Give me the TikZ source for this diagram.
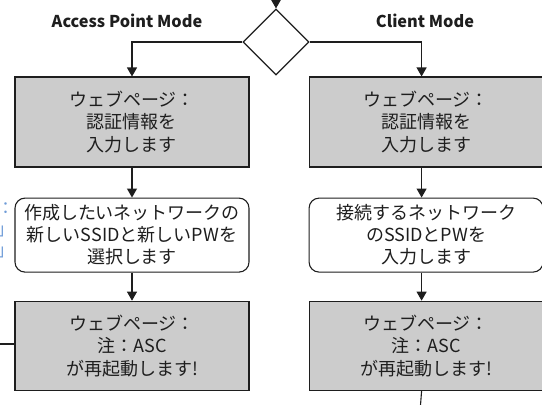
\documentclass[tikz,border=0pt]{standalone}
\usepackage{fontspec}
\setmainfont{Noto Sans CJK JP}
\usetikzlibrary{positioning,arrows.meta,shapes.geometric}
\definecolor{boxgray}{RGB}{204,204,204}
\definecolor{linegray}{RGB}{30,30,30}
\definecolor{noteblue}{RGB}{110,155,215}
\tikzset{
  webbox/.style={rectangle,draw=linegray,line width=1.1pt,fill=boxgray,text=linegray,align=center,minimum width=234pt,minimum height=90pt,inner sep=0pt,font=\fontsize{18}{22.5}\selectfont},
  userbox/.style={rectangle,rounded corners=10pt,draw=linegray,line width=1.1pt,fill=white,text=linegray,align=center,minimum width=234pt,minimum height=74pt,inner sep=0pt,font=\fontsize{18}{22}\selectfont},
  decide/.style={diamond,draw=linegray,line width=1.1pt,fill=white,minimum width=66pt,minimum height=66pt,inner sep=0pt},
  modelabel/.style={text=linegray,font=\bfseries\fontsize{16.3}{19}\selectfont},
  notetext/.style={text=noteblue,align=left,inner sep=0pt,font=\fontsize{17}{21}\selectfont},
  edge/.style={-{Triangle[length=9pt,width=10pt]},line width=1.1pt,draw=linegray}
}
\begin{document}
\begin{tikzpicture}[x=1pt,y=1pt]
  \useasboundingbox (0,0) rectangle (542,-405);
  % decision and the two modes
  \node[decide] (dec) at (276,-42) {};
  \node[modelabel] (aplabel) at (127,-21) {Access Point Mode};
  \node[modelabel] (cllabel) at (425,-21) {Client Mode};
  % left column
  \node[webbox] (apweb) at (132,-122) {ウェブページ：\\認証情報を\\入力します};
  \node[userbox,below=30pt of apweb] (apsel) {作成したいネットワークの\\新しいSSIDと新しいPWを\\選択します};
  \node[webbox,minimum height=89pt,below=28pt of apsel] (aprst) {ウェブページ：\\注：ASC\\が再起動します!};
  % right column
  \node[webbox,right=59pt of apweb] (clweb) {ウェブページ：\\認証情報を\\入力します};
  \node[userbox,below=30pt of clweb] (clent) {接続するネットワーク\\のSSIDとPWを\\入力します};
  \node[webbox,minimum height=89pt,below=28pt of clent] (clrst) {ウェブページ：\\注：ASC\\が再起動します!};
  % note cut by the left edge
  \node[notetext,anchor=north west] (apnote) at (-3,-202) {：\\」\\」};
  % free ends
  \coordinate (start) at (276,12);
  \coordinate (aploop) at (-5,-344);
  \coordinate (clnext) at (420,-412);
  % connectors
  \draw[edge] (start) -- (dec.north);
  \draw[edge] (dec.west) -| (apweb.north);
  \draw[edge] (dec.east) -| ([xshift=-4.5pt]clweb.north);
  \draw[edge] (apweb) -- (apsel);
  \draw[edge] (apsel) -- (aprst);
  \draw[edge] ([xshift=-4.5pt]clweb.south) -- ([xshift=-4.5pt]clent.north);
  \draw[edge] ([xshift=-4.5pt]clent.south) -- ([xshift=-4.5pt]clrst.north);
  \draw[line width=1.1pt,draw=linegray] (aprst.west |- aploop) -- (aploop);
  \draw[line width=1.1pt,draw=linegray] ([xshift=-4.5pt]clrst.south) -- (clnext);
\end{tikzpicture}
\end{document}
